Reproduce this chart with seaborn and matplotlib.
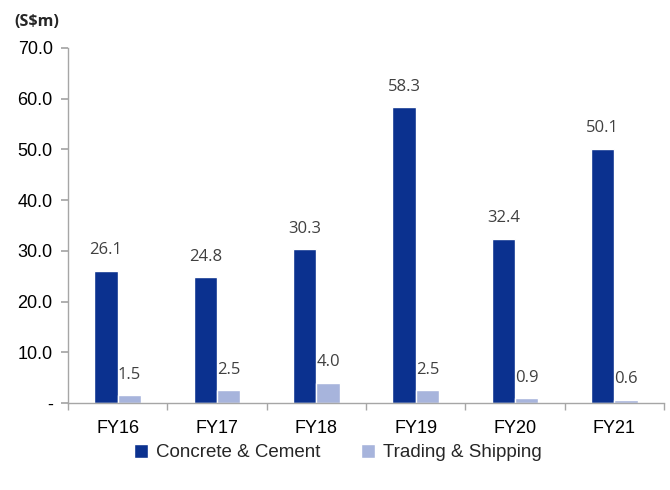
import matplotlib
matplotlib.use("Agg")
import matplotlib.pyplot as plt
import seaborn as sns
import pandas as pd

years = ["FY16", "FY17", "FY18", "FY19", "FY20", "FY21"]
concrete_cement = [26.1, 24.8, 30.3, 58.3, 32.4, 50.1]
trading_shipping = [1.5, 2.5, 4.0, 2.5, 0.9, 0.6]
series_names = ["Concrete & Cement", "Trading & Shipping"]
y_ticks = [0, 10, 20, 30, 40, 50, 60, 70]
y_tick_labels = ["-", "10.0", "20.0", "30.0", "40.0", "50.0", "60.0", "70.0"]

sns.set_theme(style="white")
plt.rcParams["font.family"] = ["Liberation Sans", "DejaVu Sans"]

df = pd.DataFrame({
    "year": years * 2,
    "value": concrete_cement + trading_shipping,
    "segment": [series_names[0]] * len(years) + [series_names[1]] * len(years),
})

palette = {series_names[0]: "#0B318F", series_names[1]: "#A7B4DC"}

fig = plt.figure(figsize=(6.7, 4.9), dpi=100)
ax = fig.add_axes([0.1015, 0.1776, 0.8895, 0.7245])

sns.barplot(data=df, x="year", y="value", hue="segment", palette=palette,
            width=0.47, gap=0, saturation=1, ax=ax, legend=True)

for container in ax.containers:
    ax.bar_label(container, fmt="%.1f", padding=9, fontsize=12,
                 color="#404040", family=["Open Sans", "DejaVu Sans"])

ax.set_ylim(0, 70)
ax.set_xlim(-0.5, len(years) - 0.5)
ax.set_yticks(y_ticks)
ax.set_yticklabels(y_tick_labels)
ax.set_xlabel("")
ax.set_ylabel("")

# category separators on the x axis
ax.set_xticks([i - 0.5 for i in range(len(years) + 1)], minor=True)
ax.tick_params(axis="x", which="major", length=0, labelsize=13, pad=12, colors="black")
ax.tick_params(axis="x", which="minor", length=5, color="#A6A6A6", direction="out", bottom=True)
ax.tick_params(axis="y", length=5, color="#A6A6A6", direction="out", left=True,
               labelsize=13, pad=6, labelcolor="black")

for side in ["top", "right"]:
    ax.spines[side].set_visible(False)
for side in ["left", "bottom"]:
    ax.spines[side].set_color("#A6A6A6")
    ax.spines[side].set_linewidth(1.0)

ax.legend(loc="center", bbox_to_anchor=(0.453, -0.14), ncol=2, frameon=False,
          fontsize=13.5, handlelength=0.75, handleheight=0.75, handletextpad=0.4,
          columnspacing=2.2, borderpad=0)

fig.text(0.021, 0.955, "(S$m)", fontsize=11.5, fontweight="bold",
         family=["Open Sans", "DejaVu Sans"], ha="left", va="center")

fig.savefig("out.png", dpi=100, facecolor="white")
